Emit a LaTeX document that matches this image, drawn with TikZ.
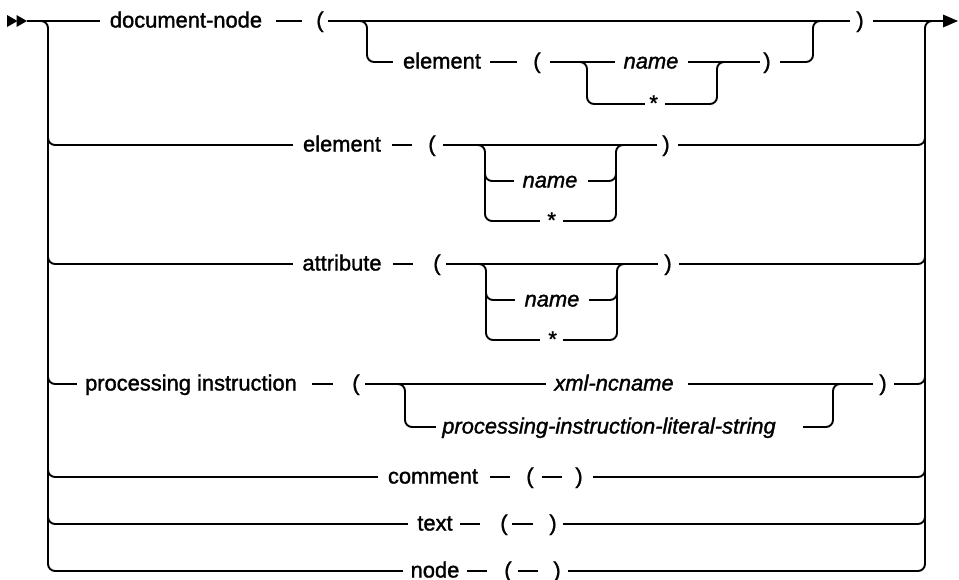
\documentclass[tikz,border=0pt]{standalone}
\usepackage{fontspec}
\setmainfont{Liberation Sans}[FakeBold=1.4]
\newcommand\tok[6]{% name, y, left gap end, right gap end, text centre, text
  \pgfmathsetmacro\tkoff{2*(#5)-(#3)-(#4)}%
  \node[tk, minimum width={(#4)-(#3)}] (#1) at ({((#3)+(#4))/2},#2) {\makebox[0pt]{\hspace*{\tkoff pt}#6}};}
\begin{document}
\begin{tikzpicture}[x=1pt,y=-1pt,
  tk/.style={inner sep=0pt, text height=13pt, text depth=0pt, font=\fontsize{21.9}{26}\selectfont},
  rail/.style={draw, line width=1.9pt, rounded corners=7pt},
  tipfill/.style={fill=black}]
\useasboundingbox (0,0) rectangle (959,579);
% ---------- tokens
% row 1
\tok{docnode}{21}{100}{276}{186}{document-node}
\tok{lpA}{21}{302}{328}{320}{(}
\tok{rpA}{21}{850}{873}{860}{)}
% row 1 sub
\tok{elemS}{62}{393}{490}{442}{element}
\tok{lpS}{62}{517}{550}{537}{(}
\tok{nameS}{62}{615}{688}{651}{\textit{name}}
\tok{starS}{104}{645}{665}{653}{\textit{*}}
\tok{rpS}{62}{760}{780}{767}{)}
% row 2
\tok{elemB}{145}{293}{392}{342}{element}
\tok{lpB}{145}{412}{443}{432}{(}
\tok{rpB}{145}{657}{678}{666}{)}
\tok{nameB}{181}{514}{588}{550}{\textit{name}}
\tok{starB}{221}{540}{563}{551}{\textit{*}}
% row 3
\tok{attr}{264}{293}{393}{342}{attribute}
\tok{lpC}{264}{413}{446}{437}{(}
\tok{rpC}{264}{658}{679}{668}{)}
\tok{nameC}{300}{515}{589}{552}{\textit{name}}
\tok{starC}{340}{540}{563}{552}{\textit{*}}
% row 4
\tok{procinst}{384}{77}{312}{191}{processing instruction}
\tok{lpD}{384}{333}{365}{356}{(}
\tok{xmlnc}{384}{546}{688}{614}{\textit{xml-ncname}}
\tok{rpD}{384}{873}{894}{883}{)}
\tok{litstr}{427}{436}{803}{609}{\textit{processing-instruction-literal-string}}
% row 5
\tok{comment}{477}{378}{490}{433}{comment}
\tok{lpE}{477}{510}{542}{530}{(}
\tok{rpE}{477}{562}{593}{579}{)}
% row 6
\tok{textkw}{524}{408}{460}{435}{text}
\tok{lpF}{524}{480}{512}{504}{(}
\tok{rpF}{524}{533}{563}{553}{)}
% row 7
\tok{nodekw}{571}{403}{467}{435}{node}
\tok{lpG}{571}{487}{518}{508}{(}
\tok{rpG}{571}{538}{568}{557}{)}
% ---------- end points
\coordinate (startpt) at (27,21);
\coordinate (endpt) at (944,21);
\fill[tipfill] (7,15) -- (17.5,21) -- (7,27) -- cycle;
\fill[tipfill] (16.5,15) -- (27,21) -- (16.5,27) -- cycle;
\fill[tipfill] (943,14.5) -- (958,21) -- (943,27.5) -- cycle;
% ---------- row 1
\draw[rail] (startpt) -- (docnode.west);
\draw[rail] (docnode.east) -- (lpA.west);
\draw[rail] (lpA.east) -- (rpA.west);
\draw[rail] (rpA.east) -- (endpt);
% row 1 sub
\draw[rail] (350,21) -- (367,21) -- (367,62) -- (elemS.west);
\draw[rail] (elemS.east) -- (lpS.west);
\draw[rail] (lpS.east) -- (nameS.west);
\draw[rail] (578,62) -- (587,62) -- (587,104) -- (starS.west);
\draw[rail] (starS.east) -- (717,104) -- (717,62) -- (726,62);
\draw[rail] (nameS.east) -- (rpS.west);
\draw[rail] (rpS.east) -- (813,62) -- (813,21) -- (825,21);
% left rail
\draw[rail] (36,21) -- (48,21) -- (48,571) -- (nodekw.west);
\draw[rail] (48,130) -- (48,145) -- (elemB.west);
\draw[rail] (48,250) -- (48,264) -- (attr.west);
\draw[rail] (48,370) -- (48,384) -- (procinst.west);
\draw[rail] (48,463) -- (48,477) -- (comment.west);
\draw[rail] (48,510) -- (48,524) -- (textkw.west);
% right rail
\draw[rail] (rpG.east) -- (925,571) -- (925,21) -- (937,21);
\draw[rail] (rpB.east) -- (925,145) -- (925,130);
\draw[rail] (rpC.east) -- (925,264) -- (925,250);
\draw[rail] (rpD.east) -- (925,384) -- (925,370);
\draw[rail] (rpE.east) -- (925,477) -- (925,463);
\draw[rail] (rpF.east) -- (925,524) -- (925,510);
% row 2
\draw[rail] (elemB.east) -- (lpB.west);
\draw[rail] (lpB.east) -- (rpB.west);
\draw[rail] (476,145) -- (485,145) -- (485,221) -- (starB.west);
\draw[rail] (485,170) -- (485,181) -- (nameB.west);
\draw[rail] (nameB.east) -- (616,181) -- (616,170);
\draw[rail] (starB.east) -- (616,221) -- (616,145) -- (625,145);
% row 3
\draw[rail] (attr.east) -- (lpC.west);
\draw[rail] (lpC.east) -- (rpC.west);
\draw[rail] (477,264) -- (486,264) -- (486,340) -- (starC.west);
\draw[rail] (486,289) -- (486,300) -- (nameC.west);
\draw[rail] (nameC.east) -- (617,300) -- (617,289);
\draw[rail] (starC.east) -- (617,340) -- (617,264) -- (626,264);
% row 4
\draw[rail] (procinst.east) -- (lpD.west);
\draw[rail] (lpD.east) -- (xmlnc.west);
\draw[rail] (xmlnc.east) -- (rpD.west);
\draw[rail] (395,384) -- (405,384) -- (405,427) -- (litstr.west);
\draw[rail] (litstr.east) -- (833,427) -- (833,384) -- (843,384);
% rows 5-7
\draw[rail] (comment.east) -- (lpE.west);
\draw[rail] (lpE.east) -- (rpE.west);
\draw[rail] (textkw.east) -- (lpF.west);
\draw[rail] (lpF.east) -- (rpF.west);
\draw[rail] (nodekw.east) -- (lpG.west);
\draw[rail] (lpG.east) -- (rpG.west);
\end{tikzpicture}
\end{document}
